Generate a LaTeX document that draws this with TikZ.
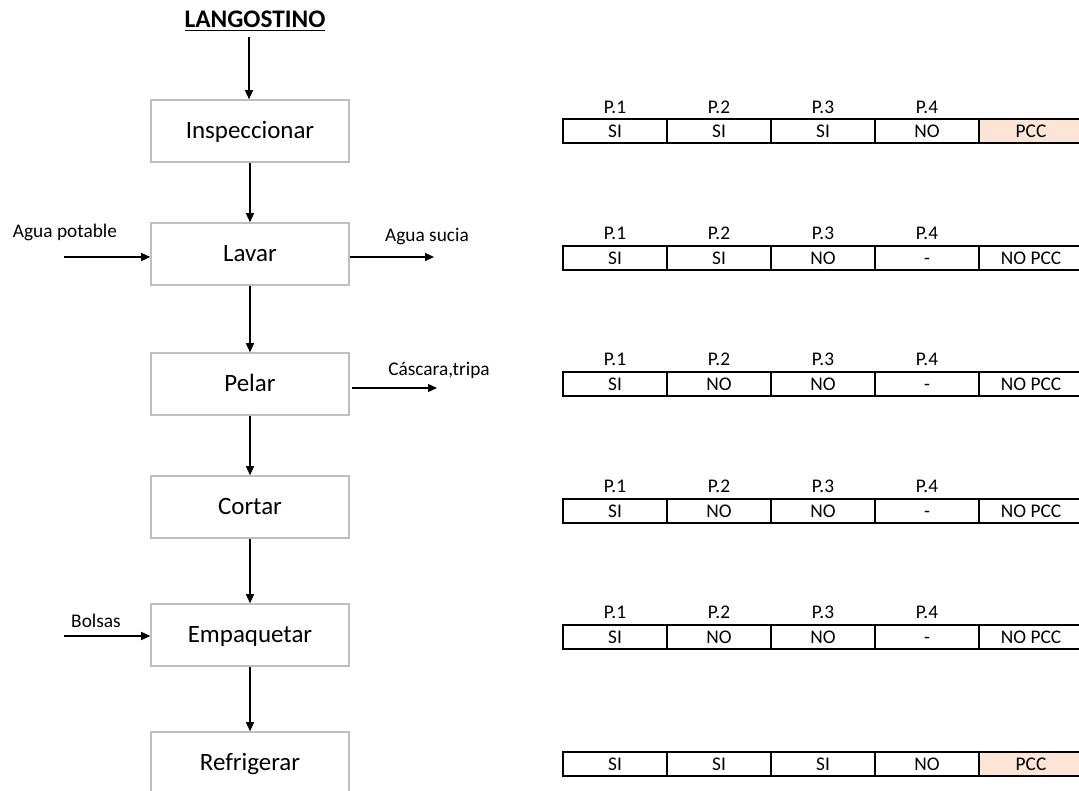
\documentclass[tikz,border=0pt]{standalone}
\usepackage{fontspec}
\setmainfont{Carlito}
\usepackage{xcolor}
\definecolor{cBox}{HTML}{BFBFBF}
\definecolor{cPCC}{HTML}{FCE4D6}
\usetikzlibrary{positioning,arrows.meta}
\tikzset{
  node-step/.style={draw=cBox,line width=0.9pt,minimum width=3.96cm,
    minimum height=1.24cm,text height=1.05em,text depth=0.2em,
    font=\fontsize{14.2}{17}\selectfont},
  node-cell/.style={draw=black,line width=0.8pt,minimum width=2.08cm,
    minimum height=0.48cm,inner sep=0pt,text height=0.9em,text depth=0.14em,
    font=\fontsize{11}{13}\selectfont},
  node-pcc/.style={fill=cPCC},
  node-plain/.style={},
  node-head/.style={inner sep=0pt,font=\fontsize{11}{13}\selectfont},
  node-side/.style={inner sep=0pt,font=\fontsize{11}{13}\selectfont},
  arrow/.style={-{Triangle[length=1.8mm,width=1.6mm]},line width=0.7pt},
}

\begin{document}
\begin{tikzpicture}[x=0.02cm,y=-0.02cm]
  \useasboundingbox (0,0) rectangle (1079,791);
  \clip (0,0) rectangle (1079,791);
  % diagrama de flujo
  \node[inner sep=1pt,font=\fontsize{14.4}{17}\selectfont\bfseries] (title) at (255,21) {\underline{LANGOSTINO}};
  \node[node-step] (insp) at (250,131) {Inspeccionar};
  \node[node-step] (lavar) at (250,254) {Lavar};
  \node[node-step] (pelar) at (250,384) {Pelar};
  \node[node-step] (cortar) at (250,507) {Cortar};
  \node[node-step] (empaq) at (250,635) {Empaquetar};
  \node[node-step] (refri) at (250,763) {Refrigerar};
  \coordinate (t0) at (249,37);
  \draw[arrow] (t0) -- (t0 |- insp.north);
  \draw[arrow] (insp) -- (lavar);
  \draw[arrow] (lavar) -- (pelar);
  \draw[arrow] (pelar) -- (cortar);
  \draw[arrow] (cortar) -- (empaq);
  \draw[arrow] (empaq) -- (refri);
  % entradas y salidas
  \node[node-side] (agua-in) at (65,232) {Agua potable};
  \node[node-side] (agua-out) at (427,237) {Agua sucia};
  \node[node-side] (cascara) at (439,370) {Cáscara,tripa};
  \node[node-side] (bolsas) at (96,621) {Bolsas};
  \coordinate (ain) at (64,257);
  \coordinate (aout) at (434,257);
  \coordinate (pin) at (352,388);
  \coordinate (pout) at (437,388);
  \coordinate (bin) at (64,636);
  \draw[arrow] (ain) -- (lavar.west |- ain);
  \draw[arrow] (lavar.east |- aout) -- (aout);
  \draw[arrow] (pin) -- (pout);
  \draw[arrow] (bin) -- (empaq.west |- bin);
  % tablas de preguntas
  \foreach \y in {107,233,359,486,612}
    \foreach \k in {1,...,4}
      \node[node-head] (h\y-\k) at ({615+104*(\k-1)},\y) {P.\k};
  \foreach \r/\y/\a/\b/\c/\d/\e/\s in {%
      1/131/SI/SI/SI/NO/PCC/node-pcc,
      2/258/SI/SI/NO/-/NO PCC/node-plain,
      3/384/SI/NO/NO/-/NO PCC/node-plain,
      4/511/SI/NO/NO/-/NO PCC/node-plain,
      5/637/SI/NO/NO/-/NO PCC/node-plain,
      6/764/SI/SI/SI/NO/PCC/node-pcc}{
    \node[node-cell] (t\r-1) at (615,\y) {\a};
    \node[node-cell] (t\r-2) at (719,\y) {\b};
    \node[node-cell] (t\r-3) at (823,\y) {\c};
    \node[node-cell] (t\r-4) at (927,\y) {\d};
    \node[node-cell,\s] (t\r-5) at (1031,\y) {\e};
  }
\end{tikzpicture}
\end{document}
